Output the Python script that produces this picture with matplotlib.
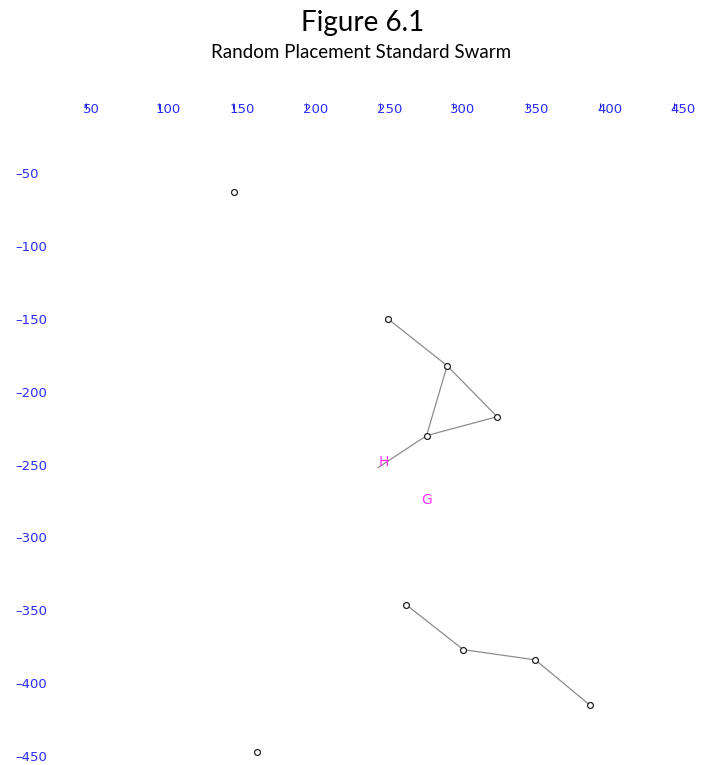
import matplotlib.pyplot as plt
import numpy as np

# particle positions
swarm_x = [151, 256, 296, 330, 282, 268, 307, 356, 393, 167]
swarm_y = [-62, -149, -181, -216, -229, -345, -376, -383, -414, -446]

# connected groups (lines between particles)
chain_a_x = [256, 296, 330, 282, 296]
chain_a_y = [-149, -181, -216, -229, -181]
tail_x = [282, 249]
tail_y = [-229, -251]
chain_b_x = [268, 307, 356, 393]
chain_b_y = [-345, -376, -383, -414]

# labelled points
mark_labels = ["H", "G"]
mark_x = [253, 282]
mark_y = [-247, -273]

x_ticks = [50, 100, 150, 200, 250, 300, 350, 400, 450]
y_ticks = [-50, -100, -150, -200, -250, -300, -350, -400, -450]

W, H = 701, 765
fig = plt.figure(figsize=(W / 100, H / 100), dpi=100)
ax = fig.add_axes([0, 0, 1, 1])

# pixel mapping: x px = 159 + (v-100)*1.47, y px = 175 + (-50-v)*1.456
sx, sy = 1.47, 1.456
ax.set_xlim(100 - 159 / sx, 100 + (W - 159) / sx)
ax.set_ylim(-50 - (H - 175) / sy, -50 + 175 / sy)
ax.axis("off")

line_kw = dict(color="#8c8c8c", lw=0.9, zorder=1)
ax.plot(chain_a_x, chain_a_y, **line_kw)
ax.plot(tail_x, tail_y, **line_kw)
ax.plot(chain_b_x, chain_b_y, **line_kw)

ax.scatter(swarm_x, swarm_y, s=18, facecolors="white", edgecolors="#222222",
           linewidths=0.9, zorder=3)

for lab, x, y in zip(mark_labels, mark_x, mark_y):
    ax.text(x, y, lab, color="#ff33ff", fontsize=10, ha="center", va="center",
            zorder=4)

blue = "#2b2bff"
top = 70.2
for t in x_ticks:
    ax.text(t - 2, top - 110 / sy, str(t), color=blue, fontsize=9.5,
            ha="left", va="center")
# small tick marks overlapping the first digit of each label
ax.vlines([t + 0.3 for t in x_ticks], top - 109 / sy, top - 103 / sy,
          color="#1a1acc", lw=0.8)
for t in y_ticks:
    ax.text(100 - 144 / sx, t, str(t).replace("-", "\u2013"), color=blue,
            fontsize=9.5, ha="left", va="center")

fig.text(363 / W, 1 - 23 / H, "Figure 6.1", fontsize=20, family="Lato",
         ha="center", va="center")
fig.text(361 / W, 1 - 52 / H, "Random Placement Standard Swarm", fontsize=13.5,
         family="Lato", ha="center", va="center")

fig.savefig("out.png", dpi=100)
